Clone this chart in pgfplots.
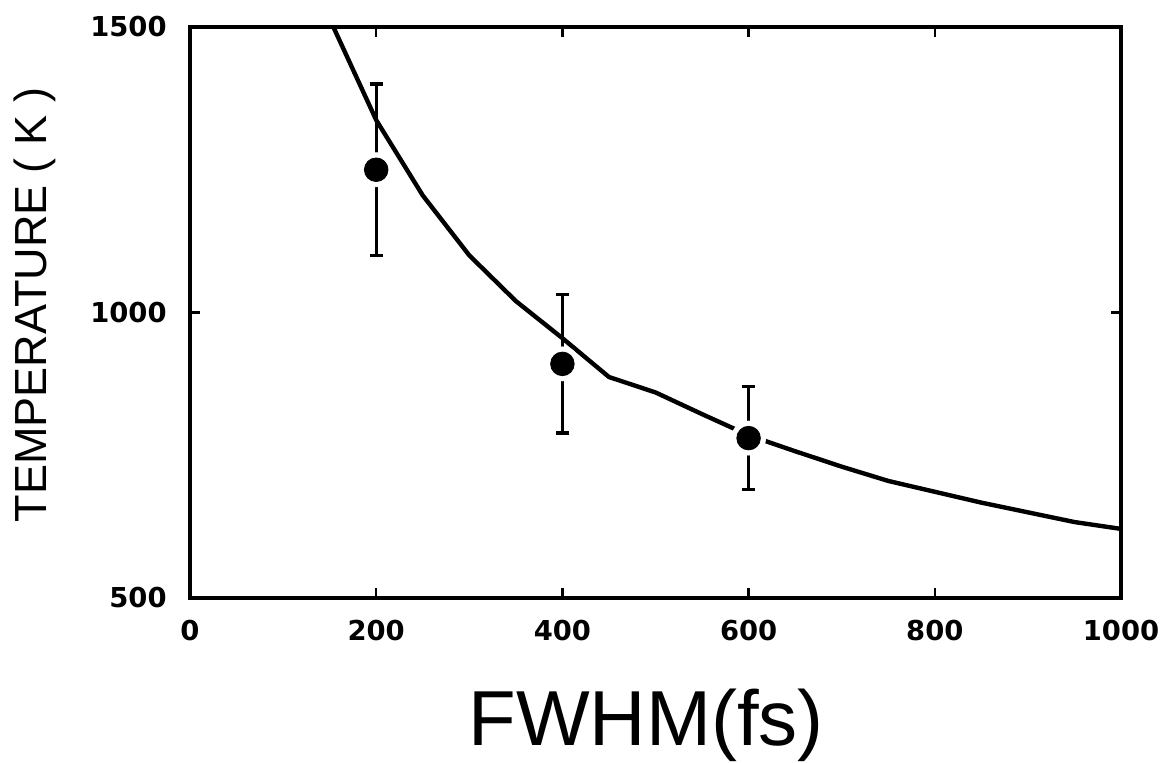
\documentclass[border=0pt]{standalone}
\usepackage{fontspec}
\setmainfont{Liberation Sans}
\newfontfamily\tickfont{DejaVu Sans}
\usepackage{pgfplots}
\pgfplotsset{compat=1.18}

\begin{document}
\begin{tikzpicture}
% page frame: the axis sits at (0,0) with its south west corner
\useasboundingbox (-95pt,-82.5pt) rectangle (488.5pt,299pt);
\begin{axis}[
  scale only axis,
  width=465.5pt, height=285.5pt,
  xmin=0, xmax=1000, ymin=500, ymax=1500,
  xtick={0,200,400,600,800,1000},
  ytick={500,1000,1500},
  tick align=inside,
  major tick length=5pt,
  axis line style={line width=1.6pt},
  every tick/.style={black, line width=1.2pt},
  /pgf/number format/assume math mode=true,
  /pgf/number format/1000 sep={},
  ticklabel style={font=\tickfont\fontsize{13.7}{13.7}\selectfont\bfseries},
  xticklabel style={anchor=north, inner sep=0pt, yshift=-11pt},
  yticklabel style={anchor=east, inner sep=0pt, xshift=-11.5pt},
  xlabel={FWHM(fs)},
  ylabel={TEMPERATURE ( K )},
  xlabel style={at={(axis description cs:0.49,0)}, anchor=north,
    inner sep=0pt, yshift=-45.5pt, font=\fontsize{39}{39}\selectfont},
  ylabel style={at={(axis description cs:-0.1665,0.513)}, anchor=center,
    inner sep=0pt, font=\fontsize{22.5}{22.5}\selectfont},
]
% error bars, with a white disc that leaves a gap round each point
\addplot[only marks, mark=*, mark size=8.5pt,
  mark options={fill=white, draw=white},
  error bars/.cd, y dir=both, y explicit,
  error bar style={line width=1.4pt, black},
  error mark options={rotate=90, mark size=3.3pt, line width=1.6pt, black}]
  table[x=x, y=y, y error=e] {
x   y    e
200 1250 150
400 910  121
600 780  90
};
% model curve
\addplot[black, line width=2.2pt, line join=round] coordinates {
  (154,1500) (200,1337) (250,1205) (300,1100) (350,1020) (400,955)
  (450,887) (500,860) (550,822) (600,785) (650,757) (700,730)
  (750,705) (800,686) (850,667) (900,650) (950,633) (1000,621)
};
% measured points
\addplot[only marks, mark=*, mark size=5.9pt, black] coordinates {
  (200,1250) (400,910) (600,780)
};
\end{axis}
\end{tikzpicture}
\end{document}
